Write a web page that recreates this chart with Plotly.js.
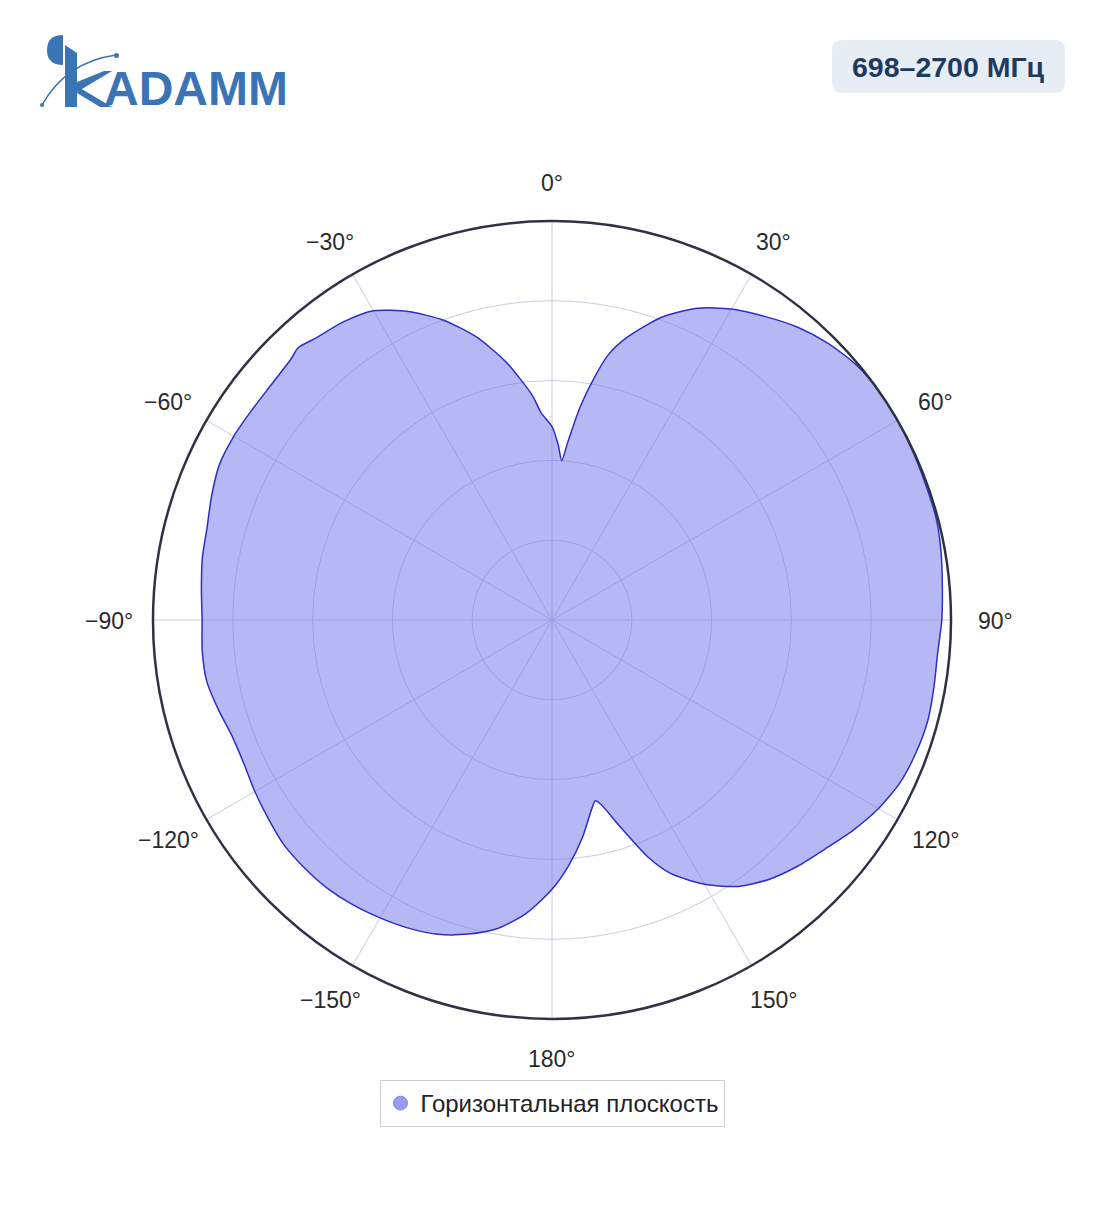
<!DOCTYPE html>
<html>
<head>
<meta charset="utf-8">
<script src="https://cdn.plot.ly/plotly-3.0.1.min.js"></script>
<style>html,body{margin:0;padding:0;background:#fff;}#chart{width:1104px;height:1211px;}</style>
</head>
<body>
<div id="chart"></div>
<script>
// Horizontal-plane pattern (angle in degrees, clockwise from 0°; normalised level)
const angles = [0, 2, 3.5, 5, 7.5, 10, 12, 15, 20, 25, 30, 35, 40, 45, 50, 55, 60, 65, 70, 75, 80, 85, 90,
  95, 100, 105, 110, 115, 120, 125, 130, 135, 140, 145, 150, 155, 158, 162, 165, 166.5, 168, 172, 176, 180,
  185, 190, 195, 200, 205, 210, 215, 220, 225, 230, 235, 240, 245, 250, 255, 260, 265, 270,
  275, 280, 285, 290, 295, 300, 305, 310, 315, 317, 320, 325, 330, 335, 340, 345, 350, 355, 357, 360];
const levels = [0.485, 0.44, 0.40, 0.445, 0.538, 0.62, 0.68, 0.735, 0.808, 0.862, 0.90, 0.929, 0.958, 0.98, 0.995, 1.0, 1.0, 0.998, 0.996, 0.996, 0.99, 0.982, 0.977,
  0.97, 0.972, 0.975, 0.971, 0.963, 0.945, 0.92, 0.893, 0.872, 0.848, 0.815, 0.765, 0.70, 0.64, 0.54, 0.48, 0.466, 0.482, 0.55, 0.615, 0.675,
  0.738, 0.785, 0.815, 0.838, 0.852, 0.862, 0.871, 0.877, 0.878, 0.877, 0.868, 0.86, 0.852, 0.853, 0.866, 0.879, 0.88, 0.877,
  0.882, 0.89, 0.895, 0.908, 0.92, 0.921, 0.918, 0.918, 0.925, 0.933, 0.922, 0.912, 0.895, 0.853, 0.80, 0.735, 0.655, 0.565, 0.52, 0.485];

const tickVals = [0, 30, 60, 90, 120, 150, 180, 210, 240, 270, 300, 330];
const tickText = ['0°', '30°', '60°', '90°', '120°', '150°', '180°', '−150°', '−120°', '−90°', '−60°', '−30°'];
const seriesName = 'Горизонтальная плоскость';
const bandLabel = '698–2700 МГц';
const logoText = 'ADAMM';

const W = 1104, H = 1211;
const px = x => x / W;
const py = y => 1 - y / H;
function path(cmds) {
  return cmds.map(c => c[0] + ' ' + (c.length > 1 ? c.slice(1).map((v, i) => (i % 2 === 0 ? px(v) : py(v)).toFixed(5)).join(' ') : '')).join(' ');
}
function roundRect(x0, y0, x1, y1, r) {
  return path([['M', x0 + r, y0], ['L', x1 - r, y0], ['Q', x1, y0, x1, y0 + r], ['L', x1, y1 - r], ['Q', x1, y1, x1 - r, y1],
    ['L', x0 + r, y1], ['Q', x0, y1, x0, y1 - r], ['L', x0, y0 + r], ['Q', x0, y0, x0 + r, y0], ['Z']]);
}
const logoBlue = '#3a74b6';

// polar area geometry (pixels)
const CX = 552, CY = 620, R = 399;
const labelRx = 443, labelRy = 438; // angular tick labels centred just outside the outer ring

const traces = [
  {
    type: 'scatterpolar', r: levels, theta: angles, mode: 'lines', fill: 'toself',
    fillcolor: 'rgba(110,114,235,0.5)', line: {color: '#2e2ec4', width: 1.5, shape: 'spline', smoothing: 0.7},
    showlegend: false, hoverinfo: 'skip'
  },
  {
    type: 'scatterpolar', r: [null], theta: [null], mode: 'markers', name: seriesName,
    marker: {color: '#9a9cf2', size: 14, line: {color: '#8688e6', width: 1}}
  }
];

const tickAnnotations = tickVals.map((v, i) => {
  const a = v * Math.PI / 180;
  return {
    xref: 'paper', yref: 'paper', x: px(CX + labelRx * Math.sin(a)), y: py(CY + 1 - labelRy * Math.cos(a)),
    xanchor: 'center', yanchor: 'middle', showarrow: false, text: tickText[i],
    font: {size: 23, color: '#2a2a2a', family: 'Liberation Sans, Arial, sans-serif'}
  };
});

const layout = {
  width: W, height: H,
  margin: {l: 0, r: 0, t: 0, b: 0},
  paper_bgcolor: '#ffffff',
  font: {family: 'Liberation Sans, Arial, sans-serif', color: '#2a2a2a'},
  polar: {
    domain: {x: [px(CX - R), px(CX + R)], y: [py(CY + R), py(CY - R)]},
    bgcolor: '#ffffff',
    angularaxis: {
      rotation: 90, direction: 'clockwise', tickmode: 'array', tickvals: tickVals, ticktext: tickText,
      showline: true, linecolor: '#2e3244', linewidth: 2.5, gridcolor: '#c9cbdd', gridwidth: 1,
      ticks: '', showticklabels: false
    },
    radialaxis: {
      range: [0, 1], dtick: 0.2, tick0: 0, showticklabels: false, showline: false, ticks: '',
      gridcolor: '#c9cbdd', gridwidth: 1
    }
  },
  showlegend: true,
  legend: {
    orientation: 'h', x: 0.5, xanchor: 'center', y: py(1080), yanchor: 'top',
    bordercolor: '#cfcfcf', borderwidth: 1, bgcolor: '#ffffff', font: {size: 24, color: '#222'}
  },
  shapes: [
    {type: 'path', xref: 'paper', yref: 'paper', path: roundRect(832, 40, 1065, 93, 10), fillcolor: '#e7edf5', line: {width: 0}},
    // logo: half disc
    {type: 'path', xref: 'paper', yref: 'paper', path: path([['M', 63, 35], ['Q', 47, 35, 47, 50], ['Q', 47, 65, 63, 65], ['Z']]), fillcolor: logoBlue, line: {width: 0}},
    // K stem
    {type: 'path', xref: 'paper', yref: 'paper', path: path([['M', 65, 45], ['L', 77, 53], ['L', 77, 107], ['L', 65, 107], ['Z']]), fillcolor: logoBlue, line: {width: 0}},
    // K upper arm
    {type: 'path', xref: 'paper', yref: 'paper', path: path([['M', 77, 82], ['L', 104, 71], ['L', 112, 71], ['L', 77, 92], ['Z']]), fillcolor: logoBlue, line: {width: 0}},
    // K lower arm
    {type: 'path', xref: 'paper', yref: 'paper', path: path([['M', 80, 88], ['L', 112, 107], ['L', 100, 107], ['L', 77, 93], ['Z']]), fillcolor: logoBlue, line: {width: 0}},
    // arc
    {type: 'path', xref: 'paper', yref: 'paper', path: path([['M', 42, 105], ['Q', 66, 62, 116, 55]]), line: {color: logoBlue, width: 1.5}},
    {type: 'circle', xref: 'paper', yref: 'paper', x0: px(40), x1: px(44), y0: py(107), y1: py(103), fillcolor: logoBlue, line: {width: 0}},
    {type: 'circle', xref: 'paper', yref: 'paper', x0: px(114), x1: px(119), y0: py(58), y1: py(53), fillcolor: logoBlue, line: {width: 0}}
  ],
  annotations: [
    {xref: 'paper', yref: 'paper', x: px(948), y: py(67), xanchor: 'center', yanchor: 'middle', showarrow: false,
     text: '<b>' + bandLabel + '</b>', font: {size: 28.5, color: '#1f3a5f', family: 'Liberation Sans, Arial, sans-serif'}},
    {xref: 'paper', yref: 'paper', x: px(102), y: py(89), xanchor: 'left', yanchor: 'middle', showarrow: false,
     text: '<b>' + logoText + '</b>', font: {size: 48, color: logoBlue, family: 'Liberation Sans, Arial, sans-serif'}}
  ].concat(tickAnnotations)
};

Plotly.newPlot('chart', traces, layout, {displayModeBar: false, staticPlot: true});
</script>
</body>
</html>
